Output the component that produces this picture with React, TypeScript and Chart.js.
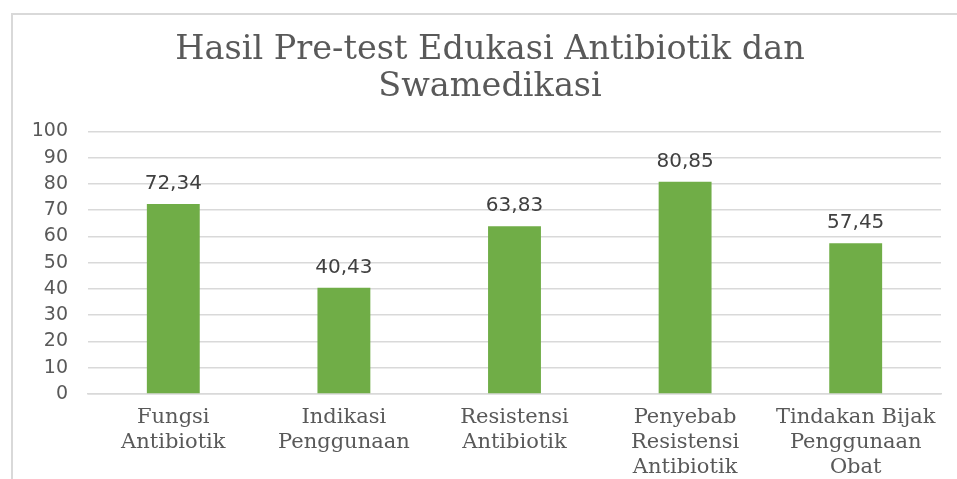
import React, { useEffect, useRef } from "react";
import { Chart, registerables } from "chart.js";

Chart.register(...registerables);

const TITLE = ["Hasil Pre-test Edukasi Antibiotik dan", "Swamedikasi"];
const categories: string[][] = [
  ["Fungsi", "Antibiotik"],
  ["Indikasi", "Penggunaan"],
  ["Resistensi", "Antibiotik"],
  ["Penyebab", "Resistensi", "Antibiotik"],
  ["Tindakan Bijak", "Penggunaan", "Obat"],
];
const scores: number[] = [72.34, 40.43, 63.83, 80.85, 57.45];
const Y_MIN = 0;
const Y_MAX = 100;
const Y_STEP = 10;

const fmt = (v: number) => v.toFixed(2).replace(".", ",");

const valueLabels = {
  id: "valueLabels",
  afterDatasetsDraw(chart: any) {
    const ctx = chart.ctx;
    const meta = chart.getDatasetMeta(0);
    const data = chart.data.datasets[0].data as number[];
    ctx.save();
    ctx.font = "20px 'DejaVu Sans'";
    ctx.fillStyle = "#404040";
    ctx.textAlign = "center";
    ctx.textBaseline = "alphabetic";
    meta.data.forEach((el: any, i: number) => {
      ctx.fillText(fmt(data[i]), el.x, el.y - 15);
    });
    ctx.restore();
  },
};

// centre the title over the whole chart box, as in the reference
const centreTitle = {
  id: "centreTitle",
  afterLayout(chart: any) {
    if (chart.titleBlock) {
      chart.titleBlock.left = 0;
      chart.titleBlock.right = chart.width;
    }
  },
};

export default function App() {
  const ref = useRef<HTMLCanvasElement | null>(null);
  useEffect(() => {
    document.documentElement.style.overflow = "hidden";
    document.body.style.overflow = "hidden";
    const chart = new Chart(ref.current as HTMLCanvasElement, {
      type: "bar",
      data: {
        labels: categories,
        datasets: [
          {
            data: scores,
            backgroundColor: "#70AD47",
            borderWidth: 0,
            barPercentage: 0.31,
            categoryPercentage: 1,
          },
        ],
      },
      options: {
        animation: false,
        responsive: false,
        devicePixelRatio: 1,
        layout: { padding: { left: 15, right: 26, top: 0, bottom: 6 } },
        plugins: {
          legend: { display: false },
          tooltip: { enabled: false },
          title: {
            display: true,
            text: TITLE,
            color: "#595959",
            font: { family: "'DejaVu Serif'", size: 33.5, weight: "normal", lineHeight: 1.11 },
            padding: { top: 17, bottom: 25 },
          },
        },
        scales: {
          x: {
            grid: { display: false, drawTicks: false },
            border: { display: true, color: "#d9d9d9", width: 1.5 },
            ticks: {
              color: "#595959",
              font: { family: "'DejaVu Serif'", size: 21, lineHeight: 1.19 },
              padding: 11,
              autoSkip: false,
              maxRotation: 0,
              minRotation: 0,
            },
          },
          y: {
            min: Y_MIN,
            max: Y_MAX,
            grid: { color: "#d9d9d9", lineWidth: 1.5, drawTicks: false },
            border: { display: false },
            afterFit: (s: any) => {
              s.width = 60;
            },
            ticks: {
              stepSize: Y_STEP,
              autoSkip: false,
              color: "#595959",
              font: { family: "'DejaVu Sans'", size: 19 },
              padding: 20,
            },
          },
        },
      },
      plugins: [valueLabels, centreTitle],
    });
    return () => chart.destroy();
  }, []);
  return (
    <div
      style={{
        position: "fixed",
        left: 11,
        top: 13,
        width: 954,
        height: 482,
        border: "2px solid #d9d9d9",
        background: "#fff",
      }}
    >
      <canvas ref={ref} width={954} height={482} style={{ display: "block" }} />
    </div>
  );
}
